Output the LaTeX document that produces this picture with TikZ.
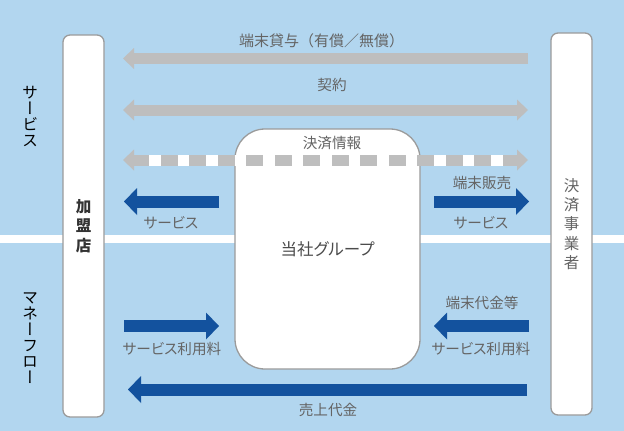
\documentclass[tikz,border=0pt]{standalone}
\usepackage{fontspec}
\usetikzlibrary{arrows.meta}
\setmainfont{Noto Sans CJK JP}
\newfontfamily\propfont{Noto Sans CJK JP}[RawFeature=+palt]
\newfontfamily\tatefont{Noto Sans CJK JP}[RawFeature=+vert]
\definecolor{skyblue}{RGB}{178,214,239}
\definecolor{arrowgray}{RGB}{190,190,190}
\definecolor{flowblue}{RGB}{19,82,158}
\definecolor{framegray}{RGB}{155,155,155}
\definecolor{textgray}{RGB}{100,100,100}

\begin{document}
\begin{tikzpicture}[x=1pt, y=-1pt,
  box/.style={draw=framegray, line width=1.3pt, fill=white, inner sep=0pt},
  lbl/.style={text=textgray, font=\propfont\fontsize{14.6}{16}\selectfont, inner sep=0pt},
  side/.style={font=\tatefont\fontsize{16}{16}\selectfont, align=center, inner sep=0pt},
  gtip/.tip={Triangle[length=11pt, width=21pt, line width=0pt]},
  btip/.tip={Triangle[length=13pt, width=27pt, line width=0pt]},
  grayflow/.style={draw=arrowgray, line width=11pt},
  blueflow/.style={draw=flowblue, line width=12pt}]
\useasboundingbox (0,0) rectangle (624,431);
%%background
\fill[skyblue] (0,0) rectangle (624,431);
\fill[white] (0,235) rectangle (624,243);
%side titles
\node[side] (service) at (30,116.5) {サ\\ー\\ビ\\ス};
\node[side] (money) at (30,338.5) {マ\\ネ\\ー\\フ\\ロ\\ー};
%%boxes
\node[box, rounded corners=7pt, minimum width=41pt, minimum height=382pt,
  font=\bfseries\fontsize{15.5}{19.5}\selectfont, text=black!80, align=center]
  (shop) at (83.5,226) {加\\盟\\店};
\node[box, rounded corners=7pt, minimum width=41pt, minimum height=382pt,
  font=\fontsize{15.5}{19.3}\selectfont, text=textgray, align=center]
  (payer) at (571.5,224) {決\\済\\事\\業\\者};
\node[box, rounded corners=30pt, minimum width=185pt, minimum height=240pt,
  font=\propfont\fontsize{16.5}{18}\selectfont, text=black!70]
  (group) at (327.5,249) {当社グループ};
%%service
%lending
\coordinate (lendL) at (123,58.5);
\coordinate (lendR) at (528,58.5);
\draw[grayflow, -gtip] (lendR) -- (lendL);
\node[lbl, font=\fontsize{15}{16}\selectfont] (lend) at (321.5,41) {端末貸与（有償／無償）};
%contract
\coordinate (dealL) at (123,110);
\coordinate (dealR) at (528,110);
\draw[grayflow, gtip-gtip] (dealL) -- (dealR);
\node[lbl] (deal) at (332,85) {契約};
%payment info
\coordinate (infoL) at (123,160);
\coordinate (infoR) at (528,160);
\draw[grayflow, gtip-gtip] (infoL) -- (infoR);
\coordinate (gapL) at (149,160);
\coordinate (gapR) at (503,160);
\draw[white, line width=11pt, dash pattern=on 11.5pt off 17pt] (gapL) -- (gapR);
\node[lbl] (info) at (332,143) {決済情報};
%service to shop
\coordinate (svcA) at (219,201.5);
\coordinate (svcB) at (124,201.5);
\draw[blueflow, -btip] (svcA) -- (svcB);
\node[lbl] (svc) at (171,222.5) {サービス};
%terminal sales
\coordinate (saleA) at (434,201.5);
\coordinate (saleB) at (529,201.5);
\draw[blueflow, -btip] (saleA) -- (saleB);
\node[lbl] (sale) at (482,183) {端末販売};
\node[lbl] (sale2) at (481,222.5) {サービス};
%%money flow
\coordinate (feeA) at (124,326);
\coordinate (feeB) at (219,326);
\draw[blueflow, -btip] (feeA) -- (feeB);
\node[lbl] (fee) at (172,349) {サービス利用料};
\coordinate (costA) at (529,326);
\coordinate (costB) at (434,326);
\draw[blueflow, -btip] (costA) -- (costB);
\node[lbl] (cost) at (482,303) {端末代金等};
\node[lbl] (cost2) at (481,349) {サービス利用料};
%sales proceeds
\coordinate (payA) at (527,389.5);
\coordinate (payB) at (128,389.5);
\draw[blueflow, -btip] (payA) -- (payB);
\node[lbl] (pay) at (328,410) {売上代金};
\end{tikzpicture}
\end{document}
